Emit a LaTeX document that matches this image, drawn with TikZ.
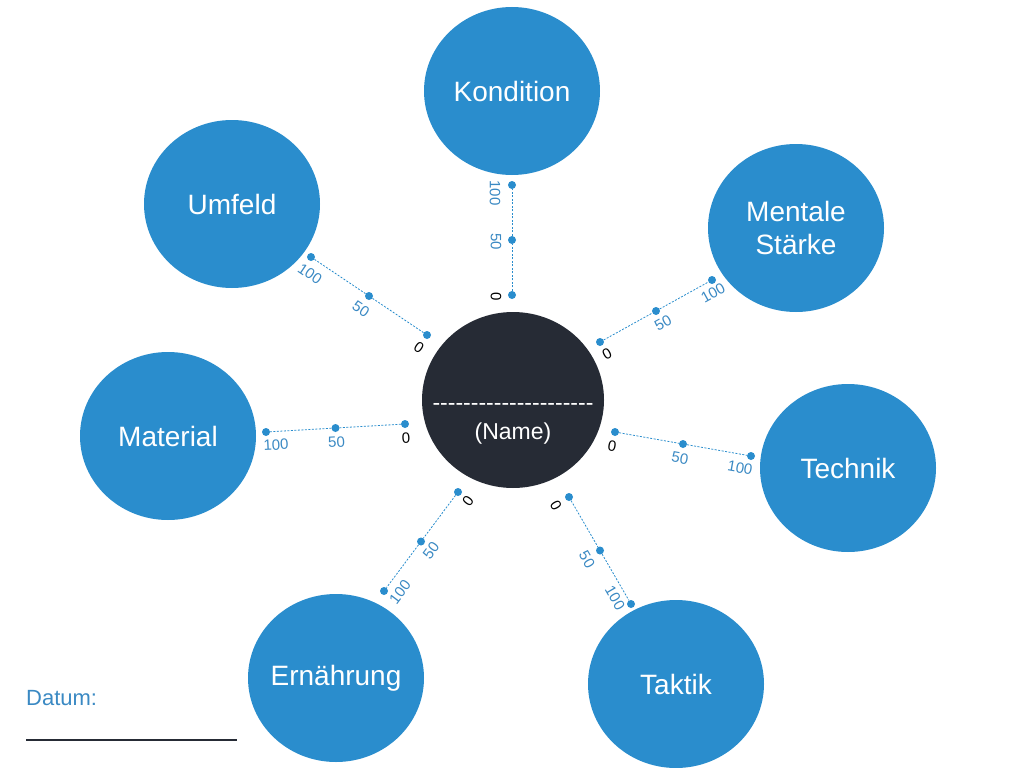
\documentclass[tikz,border=0pt]{standalone}
\usepackage{fontspec}
\setmainfont{Liberation Sans}
\usetikzlibrary{calc,shapes.geometric}
\definecolor{wheelblue}{HTML}{2A8DCD}
\definecolor{wheeldark}{HTML}{262B35}
\definecolor{scaleblue}{HTML}{3A89C3}

\begin{document}
\begin{tikzpicture}[x=1pt, y=-1pt,
  area/.style={ellipse, fill=wheelblue, minimum width=176pt, minimum height=168pt,
    label={[text=white, align=center, font=\fontsize{28}{33}\selectfont]center:#1}},
  dot/.style={circle, fill=wheelblue, inner sep=0pt, minimum size=8pt},
  scale line/.style={draw=wheelblue, line width=0.8pt, dash pattern=on 2pt off 1.5pt},
  tick/.style={inner sep=0pt, text=scaleblue, font=\fontsize{15}{15}\selectfont}]
  \useasboundingbox (0,0) rectangle (1023,768);

  % centre
  \node[ellipse, fill=wheeldark, minimum width=182pt, minimum height=176pt] (name) at (513,400) {};
  \node[text=white, font=\fontsize{23}{23}\selectfont] (line) at ($(name)+(0,7)$)
    {-{}-{}-{}-{}-{}-{}-{}-{}-{}-{}-{}-{}-{}-{}-{}-{}-{}-{}-{}-{}-};
  \node[text=white, font=\fontsize{23}{23}\selectfont] (label) at ($(name)+(0,34)$) {(Name)};

  % areas
  \node[area=Kondition] (kond) at (512,91) {};
  \node[area={Mentale\\Stärke}] (ment) at (796,228) {};
  \node[area=Technik] (tech) at (848,468) {};
  \node[area=Taktik] (takt) at (676,684) {};
  \node[area=Ernährung] (ern) at (336,678) {};
  \node[area=Material] (mat) at (168,436) {};
  \node[area=Umfeld] (umf) at (232,204) {};

  % scales 0 - 50 - 100
  \foreach \n/\ax/\ay/\bx/\by/\r/\ox/\oy/\px/\py in {
      kond/512/295/512/185/-90/-16/2/-17/8,
      umf/427/335/311/257/-34/-8/13/-1/17,
      ment/600/342/712/280/29/7/12/1/13,
      mat/405/424/266/432/3/1/14/10/13,
      tech/615/432/751/456/-10/-3/14/-11/12,
      ern/458/492/384/591/53/10/9/16/1,
      takt/569/497/631/604/-60/-13/9/-16/-6} {
    \node[dot] (\n0) at (\ax,\ay) {};
    \node[dot] (\n100) at (\bx,\by) {};
    \node[dot] (\n50) at ($(\n0)!0.5!(\n100)$) {};
    \draw[scale line] (\n0) -- (\n50) -- (\n100);
    \node[tick, text=black, rotate=\r] at ($(\n0)+(\ox,\oy)$) {0};
    \node[tick, rotate=\r] at ($(\n50)+(\ox,\oy)$) {50};
    \node[tick, rotate=\r] at ($(\n100)+(\px,\py)$) {100};
  }

  % date
  \node[anchor=west, inner sep=0pt, text=scaleblue, font=\fontsize{22}{22}\selectfont] (datum) at (26,698) {Datum:};
  \coordinate (sig start) at (26,740);
  \coordinate (sig end) at (237,740);
  \draw[line width=2pt, draw=wheeldark] (sig start) -- (sig end);
\end{tikzpicture}
\end{document}
